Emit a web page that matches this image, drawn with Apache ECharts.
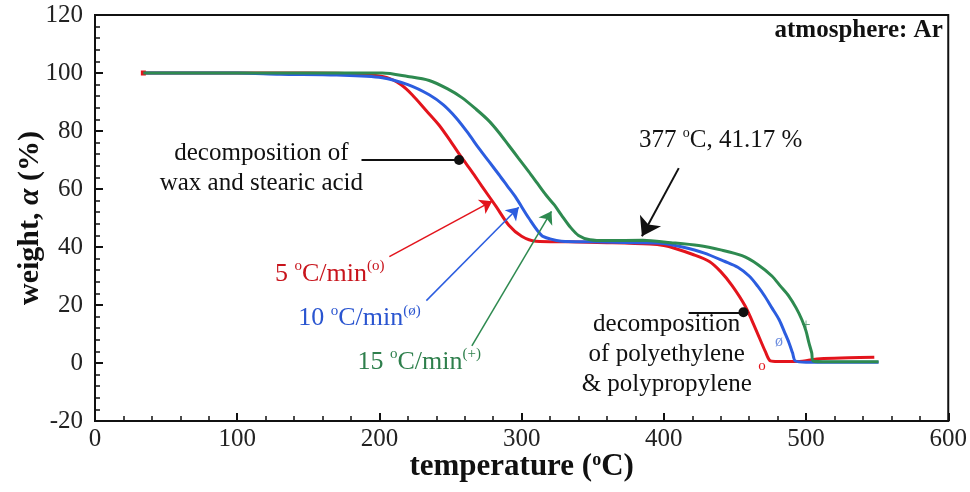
<!DOCTYPE html>
<html>
<head>
<meta charset="utf-8">
<script src="https://cdn.jsdelivr.net/npm/echarts@6/dist/echarts.min.js"></script>
<style>
html,body{margin:0;padding:0;background:#fff;}
#chart{width:970px;height:492px;}
</style>
</head>
<body>
<div id="chart"></div>
<script>
// ---- data (temperature °C, weight %) ----
var xTicks = [0, 100, 200, 300, 400, 500, 600];
var yTicks = [-20, 0, 20, 40, 60, 80, 100, 120];

var red5 = [[34,100],[100,100],[150,100],[190,99.5],[205,98.5],[215,96],[223,92.5],[233,87],[242,82],[250,76.5],[258,70.7],[265,66],[272,61],[282,54],[291,47.5],[300,43.7],[310,42],[333,41.8],[360,41.5],[390,41],[400,40.5],[408,39.5],[420,37.5],[432,35],[440,31.5],[448,26.7],[457,19.8],[464.5,11.8],[471.5,3.8],[475,0.7],[480,0.5],[492,0.5],[500,0.8],[510,1.5],[530,1.8],[548,2]];

var blue10 = [[34,100],[100,100],[130,99.6],[170,99.3],[202,98.4],[220,96],[235,92.5],[245,89],[254,84.5],[262,79.5],[270,74],[277,69.5],[284,65],[290,61],[296,57],[305,50],[314,44],[320,42.8],[328,42],[350,41.8],[380,41.5],[400,41.2],[413,40],[428,38],[443,35],[452,33],[460,30],[466,26.5],[471,23],[476,19],[481,15],[485,10.5],[488,7],[490.5,3.5],[492.5,0.7],[500,0.3],[551,0.3]];

var green15 = [[34,100],[150,100],[202,100],[220,98.8],[235,97.4],[248,94.5],[258,91.5],[268,87.5],[277,83.5],[284,79.5],[291,75],[298,70.5],[305,66],[311,62],[317,58],[323,54.5],[328,51],[334,47],[340,44],[348,42.5],[360,42.2],[385,42.3],[405,41.5],[424.5,40.5],[440,39],[455,37],[466,34],[476,30],[482,26.5],[488,23],[493,19],[497,15],[500,11],[502,7],[504,3.5],[505,0.7],[515,0.4],[551,0.4]];

var seriesNames = ['5 °C/min', '10 °C/min', '15 °C/min'];
var markerChars = ['o', 'ø', '+'];
var markerPoints = [[469,-1], [481,7.3], [500,13]];
var annotPoint = [377, 41.17];

// ---- styling ----
var SERIF = "'Liberation Serif','Times New Roman',serif";
var RED = '#e3141c', BLUE = '#2c5ddf', GREEN = '#2e8a50';
var RED_T = '#c8141c', BLUE_T = '#2a55d0', GREEN_T = '#2e7f4c';

function txt(coord, formatter, color, size, rich, align) {
  var r = rich || {};
  return {
    coord: coord, symbol: 'circle', symbolSize: 1,
    itemStyle: {color: 'rgba(0,0,0,0)'},
    label: {show: true, position: 'inside', formatter: formatter, color: color,
      fontFamily: SERIF, fontSize: size, lineHeight: Math.round(size * 1.2), align: align || 'center',
      rich: r}
  };
}
function supRich(color, size) {
  return {
    t: {fontFamily: SERIF, fontSize: size, color: color, lineHeight: Math.round(size*1.2)},
    s: {fontFamily: SERIF, fontSize: Math.round(size*0.58), color: color, verticalAlign: 'top', lineHeight: Math.round(size*1.2)}
  };
}
function arrow(from, to, color, width, endSym, endSize) {
  return [
    {coord: from, symbol: 'none'},
    {coord: to, symbol: endSym, symbolSize: endSize, lineStyle: {color: color, width: width, type: 'solid'}, itemStyle: {color: color}}
  ];
}

var chart = echarts.init(document.getElementById('chart'), null, {renderer: 'canvas'});

var option = {
  animation: false,
  backgroundColor: '#fff',
  grid: {left: 95, right: 21, top: 15, bottom: 71, show: true, borderColor: '#111', borderWidth: 2, backgroundColor: 'transparent'},
  xAxis: {
    type: 'value', min: xTicks[0], max: xTicks[xTicks.length-1], interval: 100,
    name: '{b|temperature (}{s|o}{b|C)}', nameLocation: 'middle', nameGap: 30, nameMoveOverlap: false,
    nameTextStyle: {rich: {
      b: {fontFamily: SERIF, fontWeight: 'bold', fontSize: 31, color: '#111'},
      s: {fontFamily: SERIF, fontWeight: 'bold', fontSize: 18, color: '#111', verticalAlign: 'top'}
    }},
    axisLine: {show: true, onZero: false, lineStyle: {color: '#111', width: 2}},
    axisTick: {show: true, inside: true, length: 8, lineStyle: {color: '#111', width: 2}},
    minorTick: {show: true, splitNumber: 5, length: 5, lineStyle: {color: '#111', width: 1.5}},
    axisLabel: {fontFamily: SERIF, fontSize: 25, color: '#222', margin: 6},
    splitLine: {show: false}
  },
  yAxis: {
    type: 'value', min: yTicks[0], max: yTicks[yTicks.length-1], interval: 20,
    name: '{b|weight, }{i|α}{b| (%)}', nameLocation: 'middle', nameGap: 50, nameRotate: 90, nameMoveOverlap: false,
    nameTextStyle: {rich: {
      b: {fontFamily: SERIF, fontWeight: 'bold', fontSize: 30, color: '#111'},
      i: {fontFamily: SERIF, fontWeight: 'bold', fontStyle: 'italic', fontSize: 30, color: '#111'}
    }},
    axisLine: {show: true, onZero: false, lineStyle: {color: '#111', width: 2}},
    axisTick: {show: true, inside: true, length: 8, lineStyle: {color: '#111', width: 2}},
    minorTick: {show: true, splitNumber: 5, length: 5, lineStyle: {color: '#111', width: 1.5}},
    axisLabel: {fontFamily: SERIF, fontSize: 25, color: '#222', margin: 12},
    splitLine: {show: false}
  },
  series: [
    {
      name: seriesNames[0], type: 'line', data: red5, smooth: 0.3, symbol: 'none',
      lineStyle: {color: RED, width: 3}, itemStyle: {color: RED}, z: 3,
      markLine: {
        silent: true, animation: false, label: {show: false},
        data: [
          arrow([207,36.7], [279.3,55.8], RED, 1.5, 'arrow', 12)
        ]
      },
      markPoint: {
        silent: true, animation: false,
        data: [
          txt([165,30.8], '{t|5 }{s|o}{t|C/min}{s|(o)}', RED_T, 26, supRich(RED_T, 26)),
          txt(markerPoints[0], markerChars[0], RED, 15),
          {coord: red5[0], symbol: 'rect', symbolSize: 5, itemStyle: {color: RED}, label: {show: false}}
        ]
      }
    },
    {
      name: seriesNames[1], type: 'line', data: blue10, smooth: 0.3, symbol: 'none',
      lineStyle: {color: BLUE, width: 3}, itemStyle: {color: BLUE}, z: 4,
      markLine: {
        silent: true, animation: false, label: {show: false},
        data: [
          arrow([233,21.5], [298,53.7], BLUE, 1.5, 'arrow', 12)
        ]
      },
      markPoint: {
        silent: true, animation: false,
        data: [
          txt([186,15.3], '{t|10 }{s|o}{t|C/min}{s|(ø)}', BLUE_T, 26, supRich(BLUE_T, 26)),
          txt(markerPoints[1], markerChars[1], '#6f8fe0', 16)
        ]
      }
    },
    {
      name: seriesNames[2], type: 'line', data: green15, smooth: 0.3, symbol: 'none',
      lineStyle: {color: GREEN, width: 3}, itemStyle: {color: GREEN}, z: 5,
      markLine: {
        silent: true, animation: false, label: {show: false},
        data: [
          arrow([265,5.9], [321,52.3], GREEN, 1.5, 'arrow', 12),
          arrow([410.5,67.2], [384.6,43.7], '#111', 2, 'arrow', 18),
          arrow([187.4,70], [256,70], '#111', 2, 'circle', 10),
          arrow([417.5,17.5], [456,17.5], '#111', 2, 'circle', 10)
        ]
      },
      markPoint: {
        silent: true, animation: false,
        data: [
          txt([228,0.3], '{t|15 }{s|o}{t|C/min}{s|(+)}', GREEN_T, 26, supRich(GREEN_T, 26)),
          txt(markerPoints[2], markerChars[2], '#5fa07a', 16),
          txt([117,67.2], 'decomposition of\nwax and stearic acid', '#111', 25),
          txt([440,76.6], '{t|' + annotPoint[0] + ' }{s|o}{t|C, ' + annotPoint[1].toFixed(2) + ' %}', '#111', 25, supRich('#111', 25)),
          txt([402,3.0], 'decomposition\nof polyethylene\n& polypropylene', '#111', 25),
          {coord: [596.5,119], symbol: 'circle', symbolSize: 1, itemStyle: {color: 'rgba(0,0,0,0)'},
           label: {show: true, position: 'left', distance: 0, formatter: 'atmosphere: Ar', color: '#111',
             fontFamily: SERIF, fontWeight: 'bold', fontSize: 25, verticalAlign: 'top'}}
        ]
      }
    }
  ]
};
chart.setOption(option);
</script>
</body>
</html>
